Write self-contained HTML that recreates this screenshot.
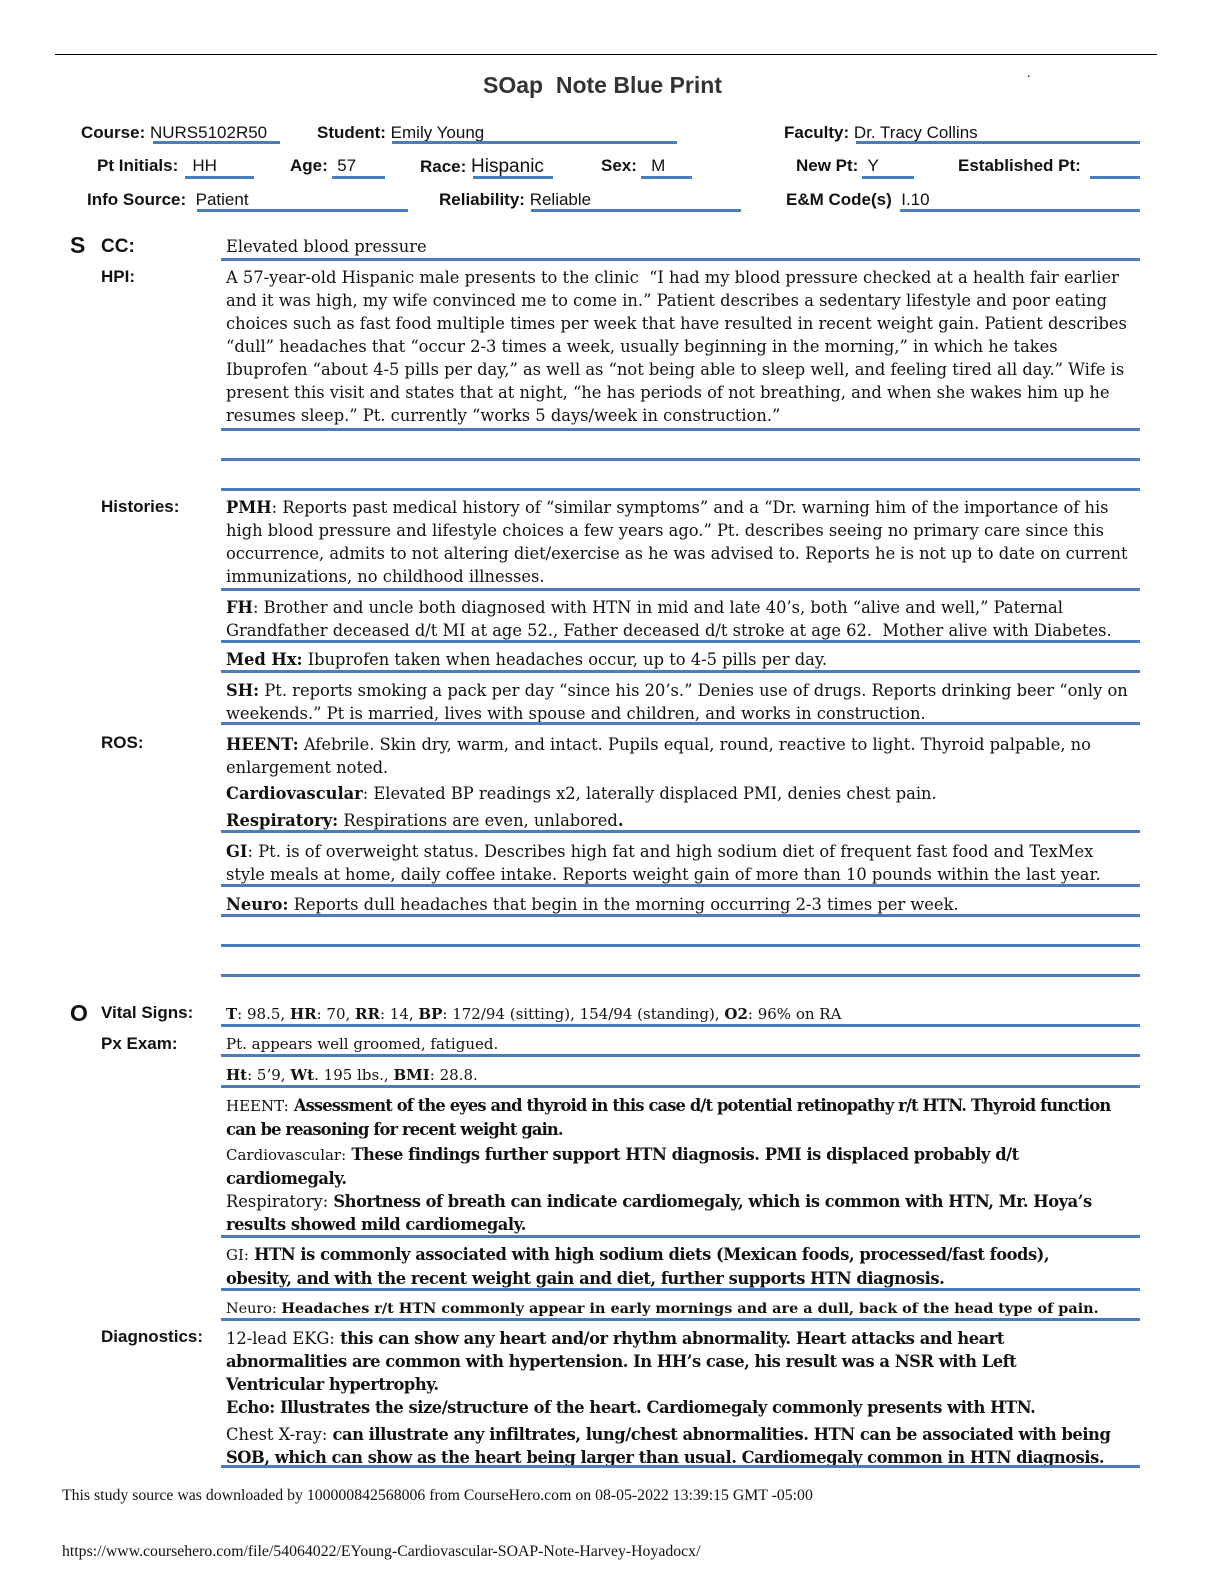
<!DOCTYPE html>
<html><head><meta charset="utf-8"><style>
body{margin:0;width:1224px;height:1584px;background:#fff;position:relative;overflow:hidden;font-family:"Liberation Serif",serif;color:#111}
.a{position:absolute;white-space:nowrap}
.s{font-family:"Liberation Sans",sans-serif;font-size:17px}
.lb{font-family:"Liberation Sans",sans-serif;font-size:17px;font-weight:bold}
.t{font-family:"DejaVu Serif",serif;font-size:16.3px;left:226px;line-height:23px}
.sm{font-size:15px}
.bb b{letter-spacing:-0.45px}
.r{position:absolute;height:3px;background:#4a7ebb}
</style></head><body>
<div class="r" style="left:55px;top:54px;width:1102px;height:1px;background:#000"></div>
<div class="a" style="left:483px;top:72px;font-family:'Liberation Sans',sans-serif;font-weight:bold;font-size:23px;color:#333">SOap&nbsp; Note Blue Print</div>
<div class="a" style="left:1027px;top:66px;font-size:14px">.</div>

<div class="a s" style="left:81px;top:123px"><b>Course:</b> NURS5102R50</div>
<div class="a s" style="left:317px;top:123px"><b>Student:</b> Emily Young</div>
<div class="a s" style="left:784px;top:123px"><b>Faculty:</b> Dr. Tracy Collins</div>
<div class="r" style="left:153px;top:141px;width:127px"></div>
<div class="r" style="left:392px;top:141px;width:285px"></div>
<div class="r" style="left:856px;top:141px;width:284px"></div>

<div class="a s" style="left:97px;top:156px"><b>Pt Initials:</b>&nbsp;&nbsp; HH</div>
<div class="a s" style="left:290px;top:156px"><b>Age:</b>&nbsp; 57</div>
<div class="a s" style="left:420px;top:156px"><b>Race:</b> <span style="font-size:19px">Hispanic</span></div>
<div class="a s" style="left:601px;top:156px"><b>Sex:</b>&nbsp;&nbsp; M</div>
<div class="a s" style="left:796px;top:156px"><b>New Pt:</b>&nbsp; Y</div>
<div class="a s" style="left:958px;top:156px"><b>Established Pt:</b></div>
<div class="r" style="left:185px;top:176px;width:69px"></div>
<div class="r" style="left:332px;top:176px;width:53px"></div>
<div class="r" style="left:473px;top:176px;width:80px"></div>
<div class="r" style="left:641px;top:176px;width:51px"></div>
<div class="r" style="left:862px;top:176px;width:52px"></div>
<div class="r" style="left:1090px;top:176px;width:50px"></div>

<div class="a s" style="left:87px;top:190px"><b>Info Source:</b>&nbsp; Patient</div>
<div class="a s" style="left:439px;top:190px"><b>Reliability:</b> Reliable</div>
<div class="a s" style="left:786px;top:190px"><b>E&amp;M Code(s)</b>&nbsp; I.10</div>
<div class="r" style="left:197px;top:209px;width:211px"></div>
<div class="r" style="left:531px;top:209px;width:210px"></div>
<div class="r" style="left:900px;top:209px;width:240px"></div>

<div class="a lb" style="left:70px;top:232px;font-size:23px">S</div>
<div class="a lb" style="left:101px;top:236px;font-size:19px">CC:</div>
<div class="a lb" style="left:101px;top:267px">HPI:</div>
<div class="a lb" style="left:101px;top:497px">Histories:</div>
<div class="a lb" style="left:101px;top:733px">ROS:</div>
<div class="a lb" style="left:70px;top:1000px;font-size:23px">O</div>
<div class="a lb" style="left:101px;top:1003px">Vital Signs:</div>
<div class="a lb" style="left:101px;top:1034px">Px Exam:</div>
<div class="a lb" style="left:101px;top:1327px">Diagnostics:</div>

<div class="a t" style="top:235px">Elevated blood pressure</div>
<div class="a t" style="top:266px">A 57-year-old Hispanic male presents to the clinic&nbsp; “I had my blood pressure checked at a health fair earlier<br>and it was high, my wife convinced me to come in.” Patient describes a sedentary lifestyle and poor eating<br>choices such as fast food multiple times per week that have resulted in recent weight gain. Patient describes<br>“dull” headaches that “occur 2-3 times a week, usually beginning in the morning,” in which he takes<br>Ibuprofen “about 4-5 pills per day,” as well as “not being able to sleep well, and feeling tired all day.” Wife is<br>present this visit and states that at night, “he has periods of not breathing, and when she wakes him up he<br>resumes sleep.” Pt. currently “works 5 days/week in construction.”</div>
<div class="a t" style="top:496px"><b>PMH</b>: Reports past medical history of “similar symptoms” and a “Dr. warning him of the importance of his<br>high blood pressure and lifestyle choices a few years ago.” Pt. describes seeing no primary care since this<br>occurrence, admits to not altering diet/exercise as he was advised to. Reports he is not up to date on current<br>immunizations, no childhood illnesses.</div>
<div class="a t" style="top:596px"><b>FH</b>: Brother and uncle both diagnosed with HTN in mid and late 40’s, both “alive and well,” Paternal<br>Grandfather deceased d/t MI at age 52., Father deceased d/t stroke at age 62.&nbsp; Mother alive with Diabetes.</div>
<div class="a t" style="top:648px"><b>Med Hx:</b> Ibuprofen taken when headaches occur, up to 4-5 pills per day.</div>
<div class="a t" style="top:679px"><b>SH:</b> Pt. reports smoking a pack per day “since his 20’s.” Denies use of drugs. Reports drinking beer “only on<br>weekends.” Pt is married, lives with spouse and children, and works in construction.</div>
<div class="a t" style="top:733px"><b>HEENT:</b> Afebrile. Skin dry, warm, and intact. Pupils equal, round, reactive to light. Thyroid palpable, no<br>enlargement noted.</div>
<div class="a t" style="top:782px"><b>Cardiovascular</b>: Elevated BP readings x2, laterally displaced PMI, denies chest pain.</div>
<div class="a t" style="top:809px"><b>Respiratory:</b> Respirations are even, unlabored<b>.</b></div>
<div class="a t" style="top:840px"><b>GI</b>: Pt. is of overweight status. Describes high fat and high sodium diet of frequent fast food and TexMex<br>style meals at home, daily coffee intake. Reports weight gain of more than 10 pounds within the last year.</div>
<div class="a t" style="top:893px"><b>Neuro:</b> Reports dull headaches that begin in the morning occurring 2-3 times per week.</div>

<div class="a t sm" style="top:1003px"><b>T</b>: 98.5, <b>HR</b>: 70, <b>RR</b>: 14, <b>BP</b>: 172/94 (sitting), 154/94 (standing), <b>O2</b>: 96% on RA</div>
<div class="a t sm" style="top:1033px">Pt. appears well groomed, fatigued.</div>
<div class="a t sm" style="top:1064px"><b>Ht</b>: 5’9, <b>Wt</b>. 195 lbs., <b>BMI</b>: 28.8.</div>
<div class="a t" style="top:1094px"><span class="sm">HEENT:</span> <b style="letter-spacing:-0.85px">Assessment of the eyes and thyroid in this case d/t potential retinopathy r/t HTN. Thyroid function<br>can be reasoning for recent weight gain.</b></div>
<div class="a t bb" style="top:1143px"><span class="sm">Cardiovascular:</span> <b>These findings further support HTN diagnosis. PMI is displaced probably d/t<br>cardiomegaly.</b></div>
<div class="a t bb" style="top:1190px"><span>Respiratory</span>: <b>Shortness of breath can indicate cardiomegaly, which is common with HTN, Mr. Hoya’s<br>results showed mild cardiomegaly.</b></div>
<div class="a t bb" style="top:1243px"><span class="sm">GI:</span> <b>HTN is commonly associated with high sodium diets (Mexican foods, processed/fast foods),<br>obesity, and with the recent weight gain and diet, further supports HTN diagnosis.</b></div>
<div class="a t" style="top:1297px;font-size:14.4px">Neuro: <b>Headaches r/t HTN commonly appear in early mornings and are a dull, back of the head type of pain.</b></div>
<div class="a t bb" style="top:1327px">12-lead EKG: <b>this can show any heart and/or rhythm abnormality. Heart attacks and heart<br>abnormalities are common with hypertension. In HH’s case, his result was a NSR with Left<br>Ventricular hypertrophy.<br>Echo: Illustrates the size/structure of the heart. Cardiomegaly commonly presents with HTN.</b></div>
<div class="a t bb" style="top:1423px">Chest X-ray: <b>can illustrate any infiltrates, lung/chest abnormalities. HTN can be associated with being<br>SOB, which can show as the heart being larger than usual. Cardiomegaly common in HTN diagnosis.</b></div>

<div class="r" style="left:221px;top:258px;width:919px"></div>
<div class="r" style="left:221px;top:428px;width:919px"></div>
<div class="r" style="left:221px;top:458px;width:919px"></div>
<div class="r" style="left:221px;top:488px;width:919px"></div>
<div class="r" style="left:221px;top:588px;width:919px"></div>
<div class="r" style="left:221px;top:640px;width:919px"></div>
<div class="r" style="left:221px;top:670px;width:919px"></div>
<div class="r" style="left:221px;top:722px;width:919px"></div>
<div class="r" style="left:221px;top:830px;width:919px"></div>
<div class="r" style="left:221px;top:884px;width:919px"></div>
<div class="r" style="left:221px;top:914px;width:919px"></div>
<div class="r" style="left:221px;top:944px;width:919px"></div>
<div class="r" style="left:221px;top:974px;width:919px"></div>
<div class="r" style="left:221px;top:1024px;width:919px"></div>
<div class="r" style="left:221px;top:1054px;width:919px"></div>
<div class="r" style="left:221px;top:1085px;width:919px"></div>
<div class="r" style="left:221px;top:1235px;width:919px"></div>
<div class="r" style="left:221px;top:1288px;width:919px"></div>
<div class="r" style="left:221px;top:1318px;width:919px"></div>
<div class="r" style="left:221px;top:1465px;width:919px"></div>

<div class="a" style="left:62px;top:1487px;font-size:15.8px">This study source was downloaded by 100000842568006 from CourseHero.com on 08-05-2022 13:39:15 GMT -05:00</div>
<div class="a" style="left:62px;top:1543px;font-size:15.8px">https://www.coursehero.com/file/54064022/EYoung-Cardiovascular-SOAP-Note-Harvey-Hoyadocx/</div>
</body></html>
